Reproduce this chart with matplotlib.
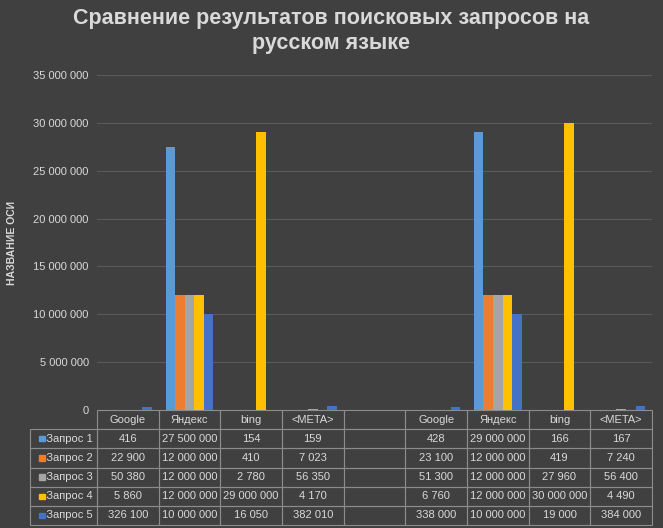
import matplotlib.pyplot as plt
import numpy as np

plt.rcParams["font.family"] = "Liberation Sans"

categories = ["Google", "Яндекс", "bing", "<META>", "", "Google", "Яндекс", "bing", "<META>"]
series_names = ["Запрос 1", "Запрос 2", "Запрос 3", "Запрос 4", "Запрос 5"]
zapros1 = [416, 27500000, 154, 159, None, 428, 29000000, 166, 167]
zapros2 = [22900, 12000000, 410, 7023, None, 23100, 12000000, 419, 7240]
zapros3 = [50380, 12000000, 2780, 56350, None, 51300, 12000000, 27960, 56400]
zapros4 = [5860, 12000000, 29000000, 4170, None, 6760, 12000000, 30000000, 4490]
zapros5 = [326100, 10000000, 16050, 382010, None, 338000, 10000000, 19000, 384000]
series = [zapros1, zapros2, zapros3, zapros4, zapros5]
colors = ["#5b9bd5", "#ed7d31", "#a5a5a5", "#ffc000", "#4472c4"]

fg = "#d9d9d9"
bg = "#404040"


def fmt(v):
    return "" if v is None else f"{v:,}".replace(",", " ")


fig = plt.figure(figsize=(6.63, 5.28), dpi=100, facecolor=bg)
ax = fig.add_axes([97 / 663, 1 - 410 / 528, 555 / 663, 335 / 528], facecolor=bg)

x = np.arange(len(categories))
w = 0.155
for i, (s, c) in enumerate(zip(series, colors)):
    vals = [0 if v is None else v for v in s]
    ax.bar(x + (i - 2) * w, vals, w, color=c, zorder=3)

ax.set_xlim(-0.5, len(categories) - 0.5)
ax.set_ylim(0, 35000000)
ax.set_yticks(range(0, 35000001, 5000000))
ax.set_yticklabels([fmt(v) for v in range(0, 35000001, 5000000)], color=fg, fontsize=8)
ax.set_xticks([])
ax.tick_params(axis="y", length=0, pad=6)
ax.grid(axis="y", color="#5a5a5a", lw=0.8, zorder=0)
for sp in ax.spines.values():
    sp.set_visible(False)
ax.set_ylabel("НАЗВАНИЕ ОСИ", color=fg, fontsize=7.5, fontweight="bold", labelpad=12)

fig.suptitle("Сравнение результатов поисковых запросов на\nрусском языке",
             color=fg, fontsize=15.5, fontweight="bold", y=0.985, linespacing=1.25)

cells = [[fmt(v) for v in s] for s in series]
tbl = ax.table(cellText=cells, rowLabels=["   " + n for n in series_names],
               colLabels=categories, cellLoc="center", rowLoc="left",
               bbox=[0, -115 / 335, 1, 115 / 335])
tbl.auto_set_font_size(False)
for (r, c), cell in tbl.get_celld().items():
    cell.set_facecolor("none")
    cell.set_edgecolor("#8c8c8c")
    cell.set_linewidth(0.8)
    cell.get_text().set_color(fg)
    cell.get_text().set_fontsize(8)
    if c == -1:
        cell.set_width(63 / 555)
        cell.set_x(-63 / 555)

rh = 115 / 335 / 6
for i, c in enumerate(colors):
    yc = -115 / 335 + rh * (4 - i) + rh / 2
    ax.add_patch(plt.Rectangle((-58 / 555, yc - 0.008), 6 / 555, 0.016, color=c,
                               transform=ax.transAxes, clip_on=False, zorder=5))

fig.savefig("out.png", dpi=100, facecolor=bg)
